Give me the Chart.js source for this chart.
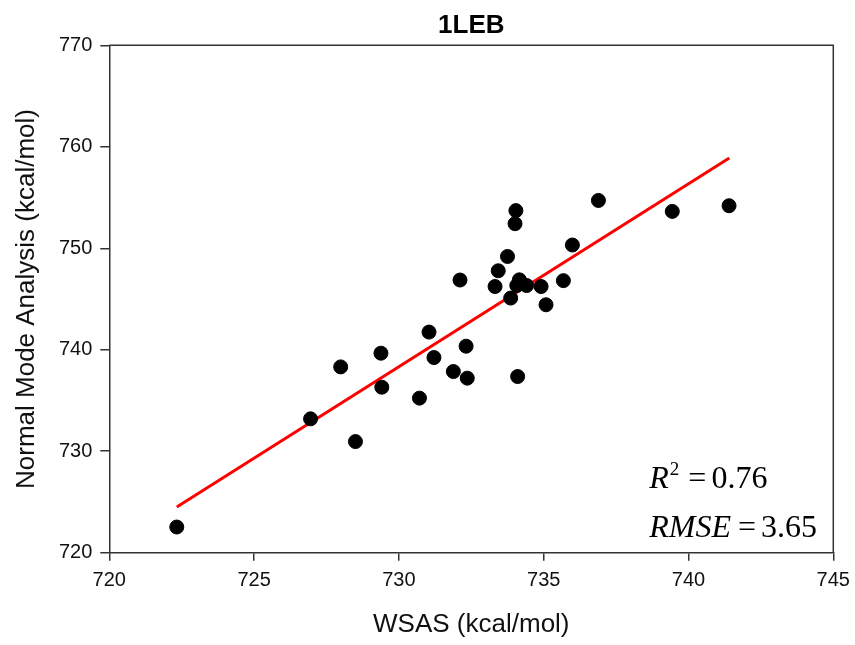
<!DOCTYPE html>
<html>
<head>
<meta charset="utf-8">
<title>1LEB</title>
<script src="https://cdn.jsdelivr.net/npm/chart.js@4.4.1/dist/chart.umd.min.js"></script>
<style>
  html, body { margin: 0; padding: 0; background: #fff; }
  #scatter { display: block; }
</style>
</head>
<body>
<canvas id="scatter" width="855" height="645"></canvas>
<script>
'use strict';

// WSAS values (x)
var wsas = [722.33, 726.95, 727.99, 728.50, 729.38, 729.41, 730.71, 731.04, 731.21, 731.88,
  732.32, 732.36, 732.11, 733.32, 733.43, 733.75, 734.04, 734.01, 733.86, 734.16,
  734.07, 734.41, 734.91, 735.08, 734.10, 735.68, 735.99, 736.89, 739.44, 741.40];

// Normal mode analysis values (y), same order
var nma = [722.53, 733.19, 738.31, 730.95, 739.66, 736.31, 735.23, 741.74, 739.23, 737.85,
  740.35, 737.20, 746.87, 746.23, 747.78, 749.19, 753.71, 752.42, 745.09, 746.89,
  746.33, 746.33, 746.23, 744.43, 737.36, 746.81, 750.32, 754.71, 753.63, 754.19];

// fitted line end points
var fitX = [722.33, 741.41];
var fitY = [724.5, 758.9];

var xTicks = [720, 725, 730, 735, 740, 745];
var yTicks = [720, 730, 740, 750, 760, 770];

var axisColor = '#333333';
var textColor = '#111111';
var sans = "'Liberation Sans', Arial, sans-serif";
var serif = "'Liberation Serif', 'Times New Roman', serif";

var points = wsas.map(function(x, i) {
  return {x: x, y: nma[i]};
});
var fitLine = fitX.map(function(x, i) {
  return {x: x, y: fitY[i]};
});

// box round the plot area (top and right sides)
var frame = {
  id: 'frame',
  afterDraw: function(chart) {
    var a = chart.chartArea;
    var ctx = chart.ctx;
    ctx.save();
    ctx.strokeStyle = axisColor;
    ctx.lineWidth = 1.5;
    ctx.beginPath();
    ctx.moveTo(a.left, a.top);
    ctx.lineTo(a.right, a.top);
    ctx.lineTo(a.right, a.bottom);
    ctx.stroke();
    ctx.restore();
  }
};

// R^2 and RMSE text in the lower right corner
var stats = {
  id: 'stats',
  afterDraw: function(chart) {
    var a = chart.chartArea;
    var ctx = chart.ctx;
    var x0 = a.right - 184;
    var y1 = a.bottom - 65;
    var y2 = a.bottom - 16;
    var x;
    ctx.save();
    ctx.fillStyle = '#000';
    ctx.textBaseline = 'alphabetic';
    ctx.textAlign = 'left';

    // R^2 = 0.76
    x = x0;
    ctx.font = 'italic 32px ' + serif;
    ctx.fillText('R', x, y1);
    x += ctx.measureText('R').width + 1;
    ctx.font = '19px ' + serif;
    ctx.fillText('2', x, y1 - 13);
    x += ctx.measureText('2').width + 9;
    ctx.font = '32px ' + serif;
    ctx.fillText('=', x, y1);
    x += ctx.measureText('=').width + 5;
    ctx.fillText('0.76', x, y1);

    // RMSE = 3.65
    x = x0;
    ctx.font = 'italic 32px ' + serif;
    ctx.fillText('RMSE', x, y2);
    x += ctx.measureText('RMSE').width + 7;
    ctx.font = '32px ' + serif;
    ctx.fillText('=', x, y2);
    x += ctx.measureText('=').width + 5;
    ctx.fillText('3.65', x, y2);
    ctx.restore();
  }
};

var ctx = document.getElementById('scatter').getContext('2d');

var chart = new Chart(ctx, {
  type: 'scatter',
  data: {
    datasets: [{
      label: 'data',
      data: points,
      backgroundColor: '#000',
      borderColor: '#000',
      pointRadius: 7,
      pointHoverRadius: 7,
      order: 1
    }, {
      type: 'line',
      label: 'fit',
      data: fitLine,
      borderColor: '#ff0000',
      borderWidth: 3,
      pointRadius: 0,
      fill: false,
      order: 2
    }]
  },
  plugins: [frame, stats],
  options: {
    responsive: false,
    animation: false,
    layout: {
      padding: {left: 0, right: 21.7, top: 0, bottom: 0}
    },
    plugins: {
      legend: {display: false},
      tooltip: {enabled: false},
      title: {
        display: true,
        fullSize: false,
        text: '1LEB',
        color: '#000',
        font: {family: sans, size: 26, weight: 'bold'},
        padding: {top: 10.4, bottom: 3.7}
      }
    },
    scales: {
      x: {
        type: 'linear',
        min: 720,
        max: 745,
        afterBuildTicks: function(axis) {
          axis.ticks = xTicks.map(function(v) { return {value: v}; });
        },
        afterFit: function(axis) {
          axis.height = 92.3;
          // let the end labels run into the page margin
          axis.paddingLeft = 0;
          axis.paddingRight = 0;
        },
        grid: {
          display: true,
          drawOnChartArea: false,
          drawTicks: true,
          tickLength: 8,
          color: axisColor,
          lineWidth: 1.5
        },
        border: {display: true, color: axisColor, width: 1.5},
        ticks: {
          color: textColor,
          padding: 8,
          maxRotation: 0,
          font: {family: sans, size: 20}
        },
        title: {
          display: true,
          text: 'WSAS (kcal/mol)',
          color: textColor,
          font: {family: sans, size: 26},
          padding: {top: 0, bottom: 4.4}
        }
      },
      y: {
        type: 'linear',
        min: 720,
        max: 770,
        afterBuildTicks: function(axis) {
          axis.ticks = yTicks.map(function(v) { return {value: v}; });
        },
        afterFit: function(axis) { axis.width = 109.3; },
        grid: {
          display: true,
          drawOnChartArea: false,
          drawTicks: true,
          tickLength: 9,
          color: axisColor,
          lineWidth: 1.5
        },
        border: {display: true, color: axisColor, width: 1.5},
        ticks: {
          color: textColor,
          padding: 8,
          font: {family: sans, size: 20}
        },
        title: {
          display: true,
          text: 'Normal Mode Analysis (kcal/mol)',
          color: textColor,
          font: {family: sans, size: 26},
          padding: {top: 11.4, bottom: 0}
        }
      }
    }
  }
});
</script>
</body>
</html>
